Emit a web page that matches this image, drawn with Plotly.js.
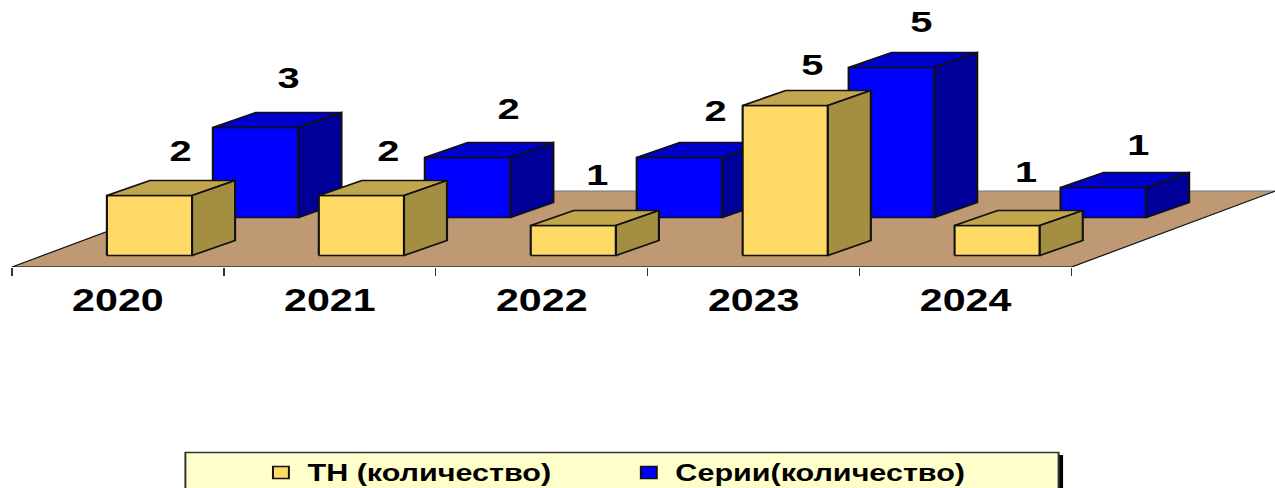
<!DOCTYPE html>
<html><head><meta charset="utf-8">
<script src="https://cdn.plot.ly/plotly-3.0.1.min.js"></script>
<style>html,body{margin:0;padding:0;background:#fff;overflow:hidden;width:1275px;height:488px}
#wrap{width:960px;height:488px;transform:scale(1.328125,1);transform-origin:0 0}</style>
</head><body><div id="wrap"><div id="chart"></div></div>
<script>
// data
const categories = ['2020','2021','2022','2023','2024'];
const thValues = [2,2,1,5,1];
const seriesValues = [3,2,2,5,1];
const thName = 'ТН (количество)';
const seriesName = 'Серии(количество)';

// geometry of the pseudo-3D view, in axis units
const STRETCH = 1275/960, W = 960, H = 488;
const PX_LEFT = 11.5, PX_BASE = 267, PX_CAT = 212, PX_UNIT = 30;
const mL = PX_LEFT/STRETCH, mB = H-PX_BASE;
const xMax = (1275-PX_LEFT)/PX_CAT, yMin = -11.5/PX_UNIT, yMax = 255.5/PX_UNIT;
const DX = 43/PX_CAT, DY = 15/PX_UNIT;
// label placement in screen pixels, relative to the bar centre and top
const thLabelDx = [31,27,24,27,29], thLabelDy = [42,42,48,38,51];
const serLabelDx = [33,41,36,30,35], serLabelDy = [47,46,44,43,40];
const groups = [
 {vals:thValues, x0:0.448, w:0.402, base:0, face:'#FFD966', top:'#C2A64E', side:'#A38E42', ldx:thLabelDx, ldy:thLabelDy},
 {vals:seriesValues, x0:0.948, w:0.404, base:38/PX_UNIT, face:'#0000FF', top:'#0000CC', side:'#000099', ldx:serLabelDx, ldy:serLabelDy}
];
const OUT = {color:'#111', width:1.6};
function poly(xs,ys,fill,line){return {type:'scatter',mode:'lines',x:[...xs,xs[0]],y:[...ys,ys[0]],fill:'toself',fillcolor:fill,
  line:line,showlegend:false,hoverinfo:'skip'};}
const traces = [];
// floor
const fy = yMin, fb = (255.5-191)/PX_UNIT, fdx = 204/PX_CAT;
traces.push(poly([0,5,5+fdx,fdx],[fy,fy,fb,fb],'#BF9874',{color:'#777',width:1}));
traces.push({type:'scatter',mode:'lines',x:[fdx,0,5,5+fdx],y:[fb,fy,fy,fb],line:{color:'#111',width:1},showlegend:false,hoverinfo:'skip'});
function bar(g,i){
  const l=i+g.x0,r=l+g.w,b=g.base,t=b+g.vals[i];
  traces.push(poly([l,r,r,l],[b,b,t,t],g.face,OUT));
  traces.push(poly([l,r,r+DX,l+DX],[t,t,t+DY,t+DY],g.top,OUT));
  traces.push(poly([r,r+DX,r+DX,r],[b,b+DY,t+DY,t],g.side,OUT));
}
categories.forEach((c,i)=>bar(groups[1],i));
categories.forEach((c,i)=>bar(groups[0],i));
// value labels
groups.forEach(g=>traces.push({type:'scatter',mode:'text',
  x:categories.map((c,i)=>i+g.x0+g.w/2+g.ldx[i]/PX_CAT),
  y:g.vals.map((v,i)=>g.base+v+g.ldy[i]/PX_UNIT),
  text:g.vals.map(String),textposition:'middle center',
  textfont:{family:'Liberation Sans, Arial',size:30,color:'#000',weight:700},
  cliponaxis:false,showlegend:false,hoverinfo:'skip'}));
// legend entries
[[thName,groups[0].face],[seriesName,groups[1].face]].forEach(([n,c])=>traces.push({type:'scatter',mode:'markers',name:n,
  x:[null],y:[null],marker:{symbol:'square',size:12,color:c,line:{color:'#111',width:1.5}}}));

const pw = W-mL, ph = H-mB;
const px = p => (p/STRETCH-mL)/pw, py = p => (PX_BASE-p)/ph;
const rect=(x0,y0,x1,y1,fill,line)=>({type:'rect',xref:'paper',yref:'paper',x0:px(x0),x1:px(x1),y0:py(y0),y1:py(y1),fillcolor:fill,line:line,layer:'below'});
const layout = {
  width:W,height:H,paper_bgcolor:'#fff',plot_bgcolor:'rgba(0,0,0,0)',
  margin:{l:mL,r:0,t:0,b:mB,pad:0,autoexpand:false},
  font:{family:'Liberation Sans, Arial',color:'#000'},
  xaxis:{range:[0,xMax],showgrid:false,zeroline:false,showline:false,fixedrange:true,
    tickmode:'array',tickvals:categories.map((c,i)=>i+0.5),ticktext:categories,ticks:'',ticklabelstandoff:12,
    tickfont:{family:'Liberation Sans, Arial',size:31,color:'#000',weight:700},
    minor:{tickmode:'array',tickvals:[0,1,2,3,4,5],ticks:'outside',ticklen:8,tickcolor:'#333',tickwidth:1,showgrid:false}},
  yaxis:{range:[yMin,yMax],visible:false,fixedrange:true},
  showlegend:true,
  legend:{orientation:'h',xref:'paper',yref:'paper',x:px(254),y:py(472.5),xanchor:'left',yanchor:'middle',
    entrywidthmode:'pixels',entrywidth:232,bgcolor:'rgba(0,0,0,0)',borderwidth:0,
    font:{family:'Liberation Sans, Arial',size:23,color:'#000',weight:700},traceorder:'normal'},
  shapes:[rect(1056,455,1063,492,'#000',{width:0}),rect(185,452.5,1058.5,492,'#FFFFCC',{color:'#333',width:1.5})]
};
Plotly.newPlot('chart',traces,layout,{displayModeBar:false,staticPlot:true,responsive:false});
</script></body></html>
